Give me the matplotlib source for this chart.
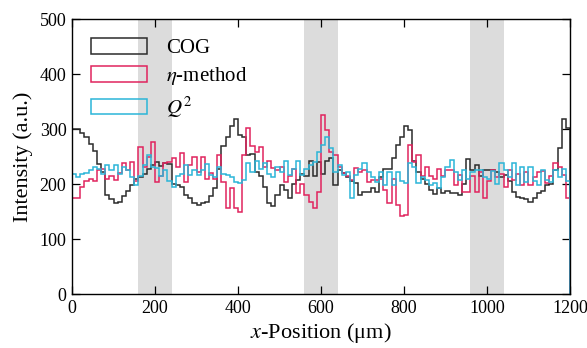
import numpy as np
import matplotlib
matplotlib.use("Agg")
import matplotlib.pyplot as plt
from matplotlib.patches import Patch

# bin edges every 10 um from 0 to 1200
bin_width = 10
x_max = 1200

cog = [
    300, 300, 292, 285, 272, 260, 236, 222, 180, 172,
    165, 168, 178, 188, 198, 210, 212, 218, 228, 235,
    240, 232, 238, 236, 200, 198, 195, 180, 175, 165,
    162, 165, 168, 178, 192, 228, 270, 285, 305, 318,
    289, 285, 253, 255, 222, 214, 195, 165, 160, 180,
    198, 190, 174, 200, 207, 219, 215, 241, 215, 240,
    219, 241, 247, 198, 225, 220, 212, 205, 201, 180,
    186, 186, 192, 185, 213, 228, 228, 247, 271, 286,
    305, 298, 241, 222, 210, 200, 189, 182, 192, 183,
    188, 183, 183, 180, 200, 245, 225, 235, 215, 225,
    225, 225, 222, 212, 216, 205, 186, 177, 174, 172,
    168, 175, 183, 188, 198, 200, 225, 265, 319, 301,
]

eta = [
    174, 174, 195, 205, 210, 205, 225, 228, 210, 215,
    208, 220, 238, 225, 240, 205, 268, 231, 250, 277,
    204, 215, 238, 240, 247, 231, 256, 204, 235, 250,
    222, 250, 210, 220, 210, 253, 204, 156, 192, 156,
    150, 253, 301, 270, 259, 268, 231, 241, 230, 225,
    231, 204, 215, 228, 183, 200, 180, 168, 156, 186,
    325, 298, 259, 253, 231, 220, 215, 207, 229, 222,
    225, 204, 207, 207, 210, 189, 165, 210, 162, 141,
    144, 271, 240, 253, 215, 231, 215, 210, 228, 215,
    225, 225, 198, 217, 186, 186, 215, 186, 222, 174,
    205, 225, 213, 219, 195, 225, 207, 219, 198, 222,
    198, 213, 222, 223, 201, 215, 238, 231, 217, 174,
]

q2 = [
    219, 213, 219, 220, 225, 231, 228, 219, 235, 225,
    235, 219, 231, 225, 213, 198, 215, 235, 253, 231,
    229, 214, 225, 205, 195, 215, 218, 235, 216, 225,
    217, 225, 236, 216, 213, 231, 219, 216, 213, 204,
    201, 207, 238, 222, 241, 228, 238, 219, 213, 231,
    222, 241, 216, 228, 241, 216, 228, 235, 240, 259,
    271, 286, 265, 222, 234, 216, 222, 174, 216, 228,
    238, 222, 213, 204, 222, 198, 222, 198, 222, 205,
    201, 238, 231, 201, 213, 207, 198, 201, 192, 213,
    231, 244, 222, 207, 225, 210, 222, 225, 225, 213,
    210, 224, 200, 238, 225, 213, 238, 198, 231, 204,
    231, 205, 198, 225, 207, 204, 225, 213, 228, 205,
]

series_names = ["COG", r"$\eta$-method", r"$Q^2$"]
series_colors = ["#2b2b2b", "#e0245e", "#2bb5d8"]

# shaded regions (um)
bands = [(160, 240), (560, 640), (960, 1040)]

plt.rcParams["font.family"] = ["Liberation Serif", "DejaVu Serif"]
plt.rcParams["mathtext.fontset"] = "stix"

fig = plt.figure(figsize=(5.87, 3.48), dpi=100)
ax = fig.add_axes([0.1227, 0.155, 0.8483, 0.7904])

for lo, hi in bands:
    ax.axvspan(lo, hi, color="#dcdcdc", lw=0, zorder=0)

edges = np.arange(0, x_max + bin_width, bin_width)
for vals, color in zip([cog, eta, q2], series_colors):
    ax.stairs(vals, edges, color=color, lw=1.1, zorder=2)

ax.set_xlim(0, 1200)
ax.set_ylim(0, 500)
ax.set_xticks(range(0, 1201, 200))
ax.set_yticks(range(0, 501, 100))
ax.tick_params(direction="in", top=True, right=True, length=6, width=0.9,
               labelsize=13, pad=4)
for sp in ax.spines.values():
    sp.set_linewidth(1.0)

ax.set_xlabel(r"$x$-Position (μm)", fontsize=16, labelpad=3)
ax.set_ylabel("Intensity (a.u.)", fontsize=16, labelpad=5)

handles = [Patch(facecolor="none", edgecolor=c, lw=1.1) for c in series_colors]
ax.legend(handles, series_names, loc="upper left", frameon=False,
          fontsize=15, handlelength=2.7, handleheight=0.8,
          borderaxespad=0.5, labelspacing=0.35, handletextpad=0.9)

fig.savefig("out.png", dpi=100)
